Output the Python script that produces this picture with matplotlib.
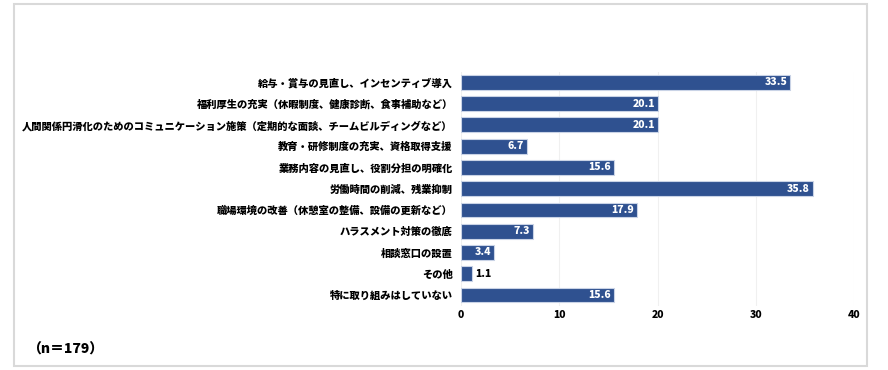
import matplotlib
matplotlib.use("Agg")
import matplotlib.pyplot as plt
from matplotlib.patches import Rectangle

plt.rcParams['font.family'] = ['Noto Sans CJK JP', 'DejaVu Sans']

# データ
categories = [
    "給与・賞与の見直し、インセンティブ導入",
    "福利厚生の充実（休暇制度、健康診断、食事補助など）",
    "人間関係円滑化のためのコミュニケーション施策（定期的な面談、チームビルディングなど）",
    "教育・研修制度の充実、資格取得支援",
    "業務内容の見直し、役割分担の明確化",
    "労働時間の削減、残業抑制",
    "職場環境の改善（休憩室の整備、設備の更新など）",
    "ハラスメント対策の徹底",
    "相談窓口の設置",
    "その他",
    "特に取り組みはしていない",
]
values = [33.5, 20.1, 20.1, 6.7, 15.6, 35.8, 17.9, 7.3, 3.4, 1.1, 15.6]
xticks = [0, 10, 20, 30, 40]
note = "（n＝179）"

bar_color = "#2f5190"

fig = plt.figure(figsize=(8.88, 3.70), dpi=100)

# 外枠
fig.patches.append(Rectangle((14 / 888, 4 / 370), 853 / 888, 362 / 370,
                             transform=fig.transFigure, fill=False,
                             edgecolor="#d9d9d9", linewidth=1.5))

ax = fig.add_axes([461 / 888, 0.174, (854 - 461) / 888, 0.632])
y = list(range(len(categories)))
ax.barh(y, values, height=0.7, color=bar_color, edgecolor="#c9d3e6", linewidth=0.8, zorder=3)

ax.set_ylim(len(categories) - 0.5, -0.5)
ax.set_xlim(0, 40)
ax.set_xticks(xticks)
ax.set_xticklabels([str(t) for t in xticks], fontsize=7.5, fontweight="heavy")
ax.set_yticks(y)
ax.set_yticklabels(categories, fontsize=7.4, fontweight="heavy")
ax.tick_params(axis="both", length=0)
ax.tick_params(axis="y", pad=6)
ax.tick_params(axis="x", pad=3)
ax.grid(axis="x", color="#f0f0f0", linewidth=0.8, zorder=0)
for s in ax.spines.values():
    s.set_visible(False)

# 値ラベル
for yi, v in zip(y, values):
    if v >= 3:
        ax.text(v - 0.3, yi, f"{v:.1f}", ha="right", va="center", color="white",
                fontsize=7.5, fontweight="heavy", zorder=4)
    else:
        ax.text(v + 0.4, yi, f"{v:.1f}", ha="left", va="center", color="black",
                fontsize=7.5, fontweight="heavy", zorder=4)

fig.text(27 / 888, 1 - 350 / 370, note, fontsize=10, fontweight="heavy", va="center", ha="left")

fig.savefig("out.png", dpi=100)
